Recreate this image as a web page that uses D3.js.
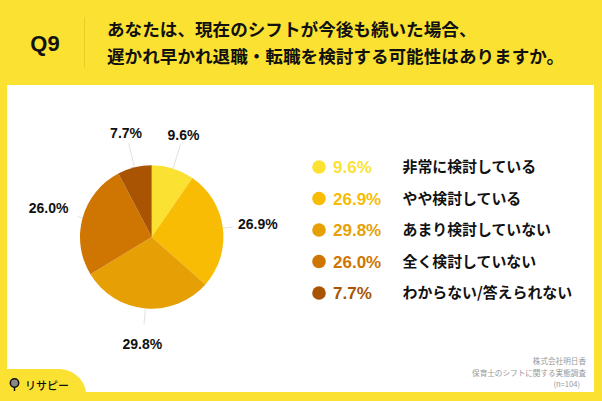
<!DOCTYPE html>
<html lang="ja"><head><meta charset="utf-8">
<script src="https://cdnjs.cloudflare.com/ajax/libs/d3/7.8.5/d3.min.js"></script>
<style>
html,body{margin:0;padding:0;background:#fbe232;overflow:hidden}
svg{display:block}
text{font-family:"Liberation Sans","Noto Sans CJK JP",sans-serif}
.jp{font-family:"Noto Sans CJK JP",sans-serif}
</style></head><body><svg id="c" width="602" height="401"></svg>
<script>
const categories = ["非常に検討している","やや検討している","あまり検討していない","全く検討していない","わからない/答えられない"];
const values = [9.6,26.9,29.8,26.0,7.7];
const colors = ["#fbe232","#f8bc04","#e69f05","#cf7501","#a85403"];
const titleLines = ["あなたは、現在のシフトが今後も続いた場合、","遅かれ早かれ退職・転職を検討する可能性はありますか。"];
const footerLines = ["株式会社明日香","保育士のシフトに関する実態調査","(n=104)"];
const leaderLengths = [25,10,16,5,25];

const W=602,H=401;
const svg=d3.select("#c");
svg.append("rect").attr("width",W).attr("height",H).attr("fill","#fbe232");
svg.append("rect").attr("x",7).attr("y",85).attr("width",587).attr("height",307).attr("fill","#fff");
svg.append("path").attr("d","M7 369H58C73 369 84 379 86 392V401H7Z").attr("fill","#fbe232");

svg.append("text").attr("x",45).attr("y",50.5).attr("text-anchor","middle").attr("font-size",22).attr("font-weight",700).attr("fill","#111").text("Q9");
svg.append("line").attr("x1",84.5).attr("x2",84.5).attr("y1",17).attr("y2",68).attr("stroke","#e9cc28").attr("stroke-width",1);
svg.selectAll(".t").data(titleLines).join("text").attr("class","jp t")
  .attr("x",107).attr("y",(d,i)=>36+i*27).attr("font-size",17.6).attr("font-weight",700).attr("fill","#111").text(d=>d);

// pie
const cx=151.7,cy=237,R=71.7,LR=107;
const g=svg.append("g").attr("transform",`translate(${cx},${cy})`);
const pie=d3.pie().sort(null).value(d=>d);
const arcs=pie(values);
const arc=d3.arc().innerRadius(0).outerRadius(R);
g.selectAll("path").data(arcs).join("path").attr("d",arc).attr("fill",(d,i)=>colors[i]);
const polar=(a,r)=>[Math.sin(a)*r,-Math.cos(a)*r];
const mid=d=>(d.startAngle+d.endAngle)/2;
g.selectAll("line").data(arcs).join("line")
  .attr("x1",d=>polar(mid(d),R)[0]).attr("y1",d=>polar(mid(d),R)[1])
  .attr("x2",(d,i)=>polar(mid(d),R+leaderLengths[i])[0]).attr("y2",(d,i)=>polar(mid(d),R+leaderLengths[i])[1])
  .attr("stroke","#d9d9d9").attr("stroke-width",.8);
g.selectAll("text").data(arcs).join("text")
  .attr("x",d=>polar(mid(d),LR)[0]).attr("y",d=>polar(mid(d),LR)[1]+5)
  .attr("text-anchor","middle").attr("font-size",14).attr("font-weight",700).attr("fill","#111")
  .text(d=>d.value.toFixed(1)+"%");

// legend
const y=d3.scalePoint().domain(categories).range([167,293]);
const lg=svg.append("g");
lg.selectAll("circle").data(categories).join("circle").attr("cx",319).attr("cy",d=>y(d)).attr("r",6.8).attr("fill",(d,i)=>colors[i]);
lg.selectAll(".p").data(categories).join("text").attr("class","p").attr("x",333).attr("y",d=>y(d)+6)
  .attr("font-size",17).attr("font-weight",700).attr("fill",(d,i)=>colors[i]).text((d,i)=>values[i].toFixed(1)+"%");
lg.selectAll(".l").data(categories).join("text").attr("class","jp l").attr("x",402.5).attr("y",d=>y(d)+5)
  .attr("font-size",14.9).attr("font-weight",700).attr("fill","#111").text(d=>d);

// footer
svg.selectAll(".f").data(footerLines).join("text").attr("class","jp f")
  .attr("x",(d,i)=>i==2?580:586).attr("y",(d,i)=>[364,376,387][i]).attr("text-anchor","end")
  .attr("font-size",7.6).attr("fill","#999").text(d=>d);

// logo
svg.append("circle").attr("cx",14.5).attr("cy",383).attr("r",4.2).attr("fill","#888").attr("stroke","#111").attr("stroke-width",1.5);
svg.append("line").attr("x1",14.5).attr("x2",14.5).attr("y1",387).attr("y2",391).attr("stroke","#111").attr("stroke-width",1.5);
svg.append("text").attr("class","jp").attr("x",25).attr("y",390).attr("font-size",11).attr("font-weight",500).attr("fill","#111").text("リサピー");
</script></body></html>
